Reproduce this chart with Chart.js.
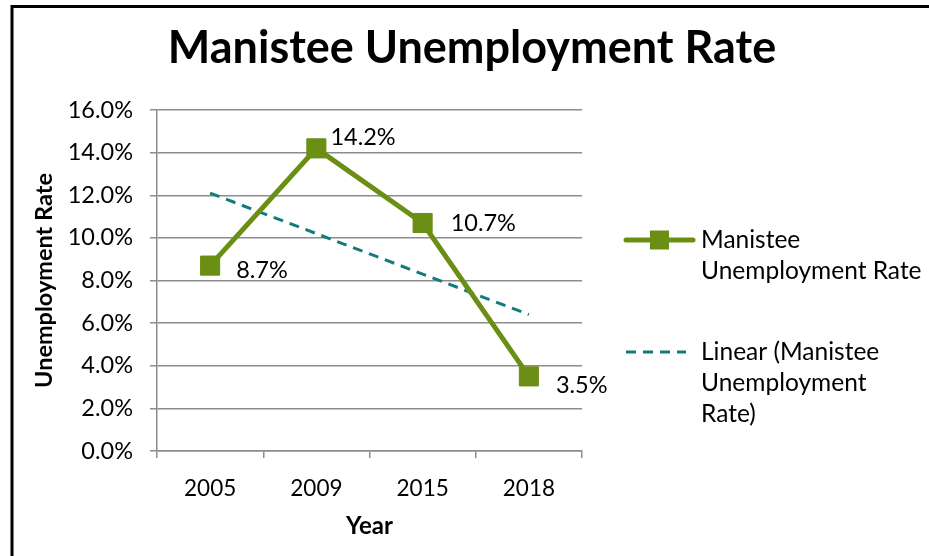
<!DOCTYPE html>
<html><head><meta charset="utf-8">
<script src="https://cdn.jsdelivr.net/npm/chart.js@4/dist/chart.umd.min.js"></script>
<style>html,body{margin:0;padding:0;background:#fff;}#wrap{position:relative;width:929px;height:556px;}</style>
</head><body><div id="wrap"><canvas id="c" width="929" height="556"></canvas></div>
<script>
const categories = ['2005', '2009', '2015', '2018'];
const unemploymentRate = [8.7, 14.2, 10.7, 3.5];
const linearTrend = [12.1, 10.2, 8.3, 6.4];
const yTicks = [0, 2, 4, 6, 8, 10, 12, 14, 16];
const chartTitle = 'Manistee Unemployment Rate';
const seriesNames = ['Manistee Unemployment Rate', 'Linear (Manistee Unemployment Rate)'];
const legendLines = [['Manistee', 'Unemployment Rate'], ['Linear (Manistee', 'Unemployment', 'Rate)']];
const FONT = 'Lato, "Open Sans", sans-serif';
const GREEN = '#6B8E14';
const TEAL = '#127C7C';
const GRID = '#8c8c8c';

const framePlugin = {
  id: 'frame',
  beforeDraw(chart) {
    const ctx = chart.ctx;
    ctx.save();
    ctx.fillStyle = '#fff';
    ctx.fillRect(0, 0, chart.width, chart.height);
    ctx.strokeStyle = '#000';
    ctx.lineWidth = 3;
    ctx.beginPath();
    ctx.moveTo(12, 556);
    ctx.lineTo(12, 6.5);
    ctx.lineTo(929, 6.5);
    ctx.stroke();
    ctx.fillStyle = '#000';
    ctx.font = 'bold 45px ' + FONT;
    ctx.textAlign = 'center';
    ctx.textBaseline = 'middle';
    ctx.fillText(chartTitle, 472, 48);
    ctx.restore();
  }
};

const labelPlugin = {
  id: 'pointLabels',
  afterDatasetsDraw(chart) {
    const ctx = chart.ctx;
    const meta = chart.getDatasetMeta(0);
    const dx = [26, 14, 28, 27];
    const dy = [5, -11, 0, 9];
    ctx.save();
    ctx.font = '23.5px ' + FONT;
    ctx.fillStyle = '#000';
    ctx.textBaseline = 'middle';
    ctx.textAlign = 'left';
    meta.data.forEach((pt, i) => {
      ctx.fillText(unemploymentRate[i].toFixed(1) + '%', pt.x + dx[i], pt.y + dy[i]);
    });
    ctx.restore();
  }
};

const legendPlugin = {
  id: 'customLegend',
  afterDraw(chart) {
    const ctx = chart.ctx;
    ctx.save();
    ctx.font = '24.5px ' + FONT;
    ctx.fillStyle = '#000';
    ctx.textBaseline = 'middle';
    ctx.textAlign = 'left';
    let y = 240;
    ctx.strokeStyle = GREEN;
    ctx.lineWidth = 5;
    ctx.lineCap = 'round';
    ctx.beginPath(); ctx.moveTo(626, y); ctx.lineTo(693, y); ctx.stroke();
    ctx.fillStyle = GREEN;
    ctx.fillRect(650, y - 9.5, 19, 19);
    ctx.fillStyle = '#000';
    legendLines[0].forEach((t, i) => ctx.fillText(t, 701, y + i * 31));
    y = 352;
    ctx.strokeStyle = TEAL;
    ctx.lineWidth = 3;
    ctx.lineCap = 'butt';
    ctx.setLineDash([10, 7]);
    ctx.beginPath(); ctx.moveTo(626, y); ctx.lineTo(686, y); ctx.stroke();
    ctx.setLineDash([]);
    legendLines[1].forEach((t, i) => ctx.fillText(t, 701, y + i * 31));
    ctx.restore();
  }
};

new Chart(document.getElementById('c'), {
  type: 'line',
  data: {
    labels: categories,
    datasets: [
      {
        label: seriesNames[0],
        data: unemploymentRate,
        borderColor: GREEN,
        backgroundColor: GREEN,
        borderWidth: 5,
        pointStyle: 'rect',
        pointRadius: 13.5,
        pointBorderWidth: 1,
        pointBorderColor: GREEN,
        pointBackgroundColor: GREEN,
        tension: 0,
        order: 1
      },
      {
        label: seriesNames[1],
        data: linearTrend,
        borderColor: TEAL,
        borderWidth: 3,
        borderDash: [10, 7],
        pointRadius: 0,
        tension: 0,
        order: 2
      }
    ]
  },
  options: {
    responsive: false,
    animation: false,
    layout: { padding: { left: 22, right: 347, top: 110, bottom: 15 } },
    plugins: {
      legend: { display: false },
      tooltip: { enabled: false },
      title: { display: false }
    },
    scales: {
      x: {
        offset: true,
        afterFit(scale) { scale.height = 556 - 15 - 451; },
        grid: { offset: true, drawOnChartArea: false, drawTicks: true, tickLength: 7, color: GRID, lineWidth: 1.5 },
        border: { display: true, color: GRID, width: 1.5 },
        ticks: { color: '#000', font: { family: FONT, size: 22.5 }, padding: 17, maxRotation: 0 },
        title: { display: true, text: 'Year', color: '#000', font: { family: FONT, size: 24, weight: 'bold' }, padding: { top: 8, bottom: 0 } }
      },
      y: {
        min: 0, max: 16,
        afterBuildTicks(scale) { scale.ticks = yTicks.map(v => ({ value: v })); },
        afterFit(scale) { scale.width = 157 - 22; },
        grid: { drawTicks: true, tickLength: 7, color: GRID, lineWidth: 1.5 },
        border: { display: true, color: GRID, width: 1.5 },
        ticks: { color: '#000', font: { family: FONT, size: 23.5 }, padding: 17, callback: v => Number(v).toFixed(1) + '%' },
        title: { display: true, text: 'Unemployment Rate', color: '#000', font: { family: FONT, size: 23.5, weight: 'bold' }, padding: { top: 8, bottom: 0 } }
      }
    }
  },
  plugins: [framePlugin, labelPlugin, legendPlugin]
});
</script></body></html>
